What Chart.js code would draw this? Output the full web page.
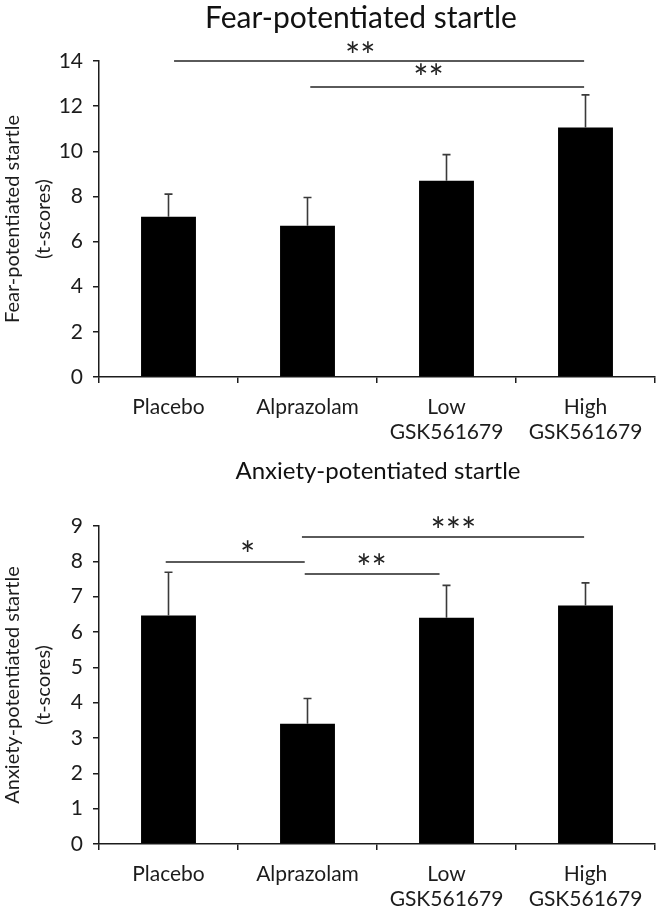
<!DOCTYPE html>
<html><head><meta charset="utf-8">
<script src="https://cdn.jsdelivr.net/npm/chart.js@4/dist/chart.umd.min.js"></script>
<style>
html,body{margin:0;padding:0;background:#fff;}
#wrap{position:relative;width:670px;height:912px;overflow:hidden;background:#fff;}
canvas{position:absolute;left:0;}
.ttl{position:absolute;font-family:Lato,sans-serif;color:#111;white-space:nowrap;transform:translate(-50%,-50%);line-height:1;}
</style></head><body>
<div id="wrap">
<canvas id="c1" width="670" height="456" style="top:0;width:670px;height:456px"></canvas>
<canvas id="c2" width="670" height="456" style="top:456px;width:670px;height:456px"></canvas>
<div class="ttl" style="left:361px;top:16px;font-size:30px;">Fear-potentiated startle</div>
<div class="ttl" style="left:378px;top:470px;font-size:24px;">Anxiety-potentiated startle</div>
</div>
<script>
// ---- data ----
const categories = [['Placebo'], ['Alprazolam'], ['Low', 'GSK561679'], ['High', 'GSK561679']];

const fearMeans  = [7.1, 6.7, 8.7, 11.05];
const fearErrors = [1.0, 1.25, 1.15, 1.45];
const fearTickMax = 14, fearTickStep = 2;
const fearSigFrom  = [0.04, 1.02];
const fearSigTo    = [2.99, 2.99];
const fearSigLevel = [14.0, 12.85];
const fearSigText  = ['**', '**'];
const fearSigTextX = [1.38, 1.87];
const fearSigTextLevel = [14.53, 13.56];

const anxMeans  = [6.47, 3.4, 6.4, 6.75];
const anxErrors = [1.22, 0.72, 0.92, 0.64];
const anxTickMax = 9, anxTickStep = 1;
const anxSigFrom  = [-0.02, 0.98, 0.96];
const anxSigTo    = [0.98, 1.95, 2.99];
const anxSigLevel = [7.98, 7.64, 8.69];
const anxSigText  = ['*', '**', '***'];
const anxSigTextX = [0.57, 1.46, 2.05];
const anxSigTextLevel = [8.38, 7.99, 9.04];

// ---- plugins ----
const errorBarPlugin = {
  id: 'errorBars',
  afterDatasetsDraw(chart, args, opts) {
    const {ctx} = chart;
    const y = chart.scales.y;
    const meta = chart.getDatasetMeta(0);
    const vals = chart.data.datasets[0].data;
    ctx.save();
    ctx.strokeStyle = opts.color;
    ctx.lineWidth = opts.width;
    opts.errors.forEach((e, i) => {
      const px = meta.data[i].x;
      const yb = y.getPixelForValue(vals[i]);
      const yt = y.getPixelForValue(vals[i] + e);
      ctx.beginPath();
      ctx.moveTo(px, yb); ctx.lineTo(px, yt);
      ctx.moveTo(px - opts.cap, yt); ctx.lineTo(px + opts.cap, yt);
      ctx.stroke();
    });
    ctx.restore();
  }
};
const sigPlugin = {
  id: 'sig',
  afterDraw(chart, args, opts) {
    const {ctx} = chart;
    const x = chart.scales.x, y = chart.scales.y;
    ctx.save();
    ctx.strokeStyle = opts.lineColor;
    ctx.lineWidth = opts.lineWidth;
    opts.from.forEach((f, i) => {
      const yy = y.getPixelForValue(opts.level[i]);
      ctx.beginPath();
      ctx.moveTo(x.getPixelForValue(f), yy);
      ctx.lineTo(x.getPixelForValue(opts.to[i]), yy);
      ctx.stroke();
    });
    ctx.fillStyle = opts.textColor;
    ctx.font = opts.font;
    ctx.textAlign = 'center';
    ctx.textBaseline = 'middle';
    opts.text.forEach((t, i) => {
      ctx.fillText(t, x.getPixelForValue(opts.textX[i]), y.getPixelForValue(opts.textLevel[i]) + opts.textShift);
    });
    ctx.restore();
  }
};

function makeChart(id, means, errors, tickMax, tickStep, yTitle, padTop, xHeight, sig) {
  const ink = '#1c1c1c';
  return new Chart(document.getElementById(id), {
    type: 'bar',
    data: {
      labels: categories,
      datasets: [{data: means, backgroundColor: '#000', borderWidth: 0,
                  barPercentage: 0.395, categoryPercentage: 1.0}]
    },
    options: {
      responsive: false, animation: false, devicePixelRatio: 1,
      layout: {padding: {top: padTop, right: 15, left: 0, bottom: 0}},
      plugins: {
        legend: {display: false}, tooltip: {enabled: false}, title: {display: false},
        errorBars: {errors: errors, color: '#3a3a3a', width: 1.6, cap: 4},
        sig: {from: sig.from, to: sig.to, level: sig.level, text: sig.text,
              textX: sig.textX, textLevel: sig.textLevel,
              lineColor: '#5a5a5a', lineWidth: 2, textColor: '#222',
              font: '36px Lato', textShift: 8}
      },
      scales: {
        x: {
          offset: true,
          grid: {offset: true, drawOnChartArea: false, drawTicks: true, tickLength: 6, color: ink, lineWidth: 1.5},
          border: {display: true, color: ink, width: 1.5},
          ticks: {color: ink, font: {family: 'Lato', size: 21, lineHeight: 1.22}, padding: 11,
                  maxRotation: 0, autoSkip: false},
          afterFit(s) { s.height = xHeight; }
        },
        y: {
          min: 0, max: tickMax,
          ticks: {stepSize: tickStep, color: ink, font: {family: 'Lato', size: 21}, padding: 10},
          grid: {drawOnChartArea: false, drawTicks: true, tickLength: 6, color: ink, lineWidth: 1.5},
          border: {display: true, color: ink, width: 1.5},
          title: {display: true, text: yTitle, color: ink,
                  font: {family: 'Lato', size: 20, lineHeight: '31px'}, padding: {top: -3, bottom: 0}},
          afterFit(s) { s.width = 99; }
        }
      }
    },
    plugins: [errorBarPlugin, sigPlugin]
  });
}

makeChart('c1', fearMeans, fearErrors, fearTickMax, fearTickStep,
  ['Fear-potentiated startle', '(t-scores)'], 61, 79,
  {from: fearSigFrom, to: fearSigTo, level: fearSigLevel, text: fearSigText,
   textX: fearSigTextX, textLevel: fearSigTextLevel});
makeChart('c2', anxMeans, anxErrors, anxTickMax, anxTickStep,
  ['Anxiety-potentiated startle', '(t-scores)'], 70, 68,
  {from: anxSigFrom, to: anxSigTo, level: anxSigLevel, text: anxSigText,
   textX: anxSigTextX, textLevel: anxSigTextLevel});
</script>
</body></html>
